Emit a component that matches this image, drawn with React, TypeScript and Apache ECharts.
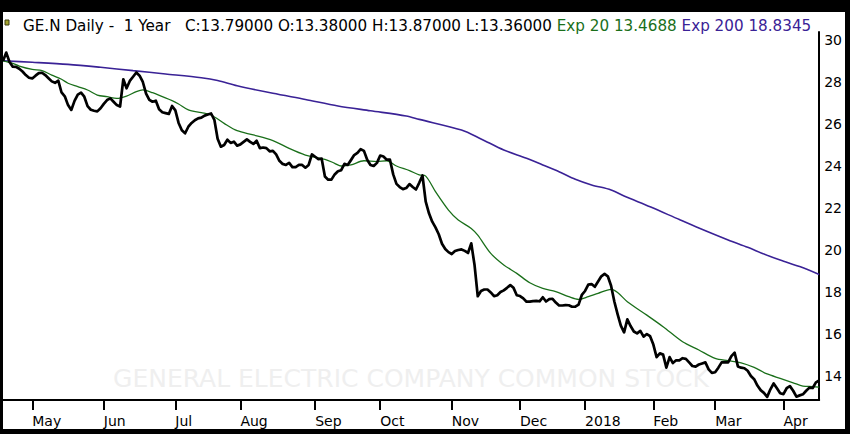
import React, { useEffect, useRef } from "react";
import * as echarts from "echarts";

// ---------- data ----------
const monthLabels = ["Apr", "May", "Jun", "Jul", "Aug", "Sep", "Oct", "Nov", "Dec", "2018", "Feb", "Mar", "Apr"];

const apr17 = [29.0, 29.4, 28.95, 28.73, 28.72, 28.63, 28.5, 28.33, 28.2];
const may17 = [28.17, 28.3, 28.42, 28.44, 28.33, 28.18, 28.03, 27.96, 28.06, 27.5, 27.32, 26.9, 26.67, 27.1, 27.4, 27.49, 27.3, 26.85, 26.68, 26.63, 26.6, 26.75];
const jun17 = [26.96, 27.14, 27.22, 27.06, 26.9, 26.83, 28.13, 27.7, 28.05, 28.25, 28.45, 28.3, 28.0, 27.45, 27.15, 27.06, 27.11, 26.7, 26.56, 26.52, 26.48, 26.86];
const jul17 = [26.65, 26.05, 25.7, 25.56, 25.87, 26.05, 26.18, 26.27, 26.3, 26.4, 26.45, 26.5, 26.2, 25.3, 24.92, 25.0, 25.25, 25.1, 25.16, 24.97];
const aug17 = [25.03, 25.15, 25.27, 25.15, 25.05, 25.2, 24.85, 24.88, 24.85, 24.7, 24.72, 24.55, 24.25, 24.1, 24.05, 24.15, 23.95, 23.95, 24.05, 24.05, 23.92, 24.05, 24.55];
const sep17 = [24.44, 24.33, 24.35, 23.5, 23.35, 23.35, 23.6, 23.75, 23.8, 24.1, 24.05, 24.28, 24.52, 24.62, 24.8, 24.72, 24.3, 24.05, 24.0, 24.15];
const oct17 = [24.5, 24.45, 24.3, 24.3, 23.6, 23.15, 23.0, 22.9, 22.95, 23.14, 23.0, 22.88, 23.2, 23.55, 22.3, 21.75, 21.35, 21.08, 20.75, 20.3, 20.05, 19.9];
const nov17 = [19.81, 19.95, 20.0, 20.03, 19.96, 19.86, 20.32, 19.3, 17.8, 18.05, 18.12, 18.12, 17.98, 17.8, 17.85, 18.0, 18.08, 18.2, 18.33, 18.2, 17.85];
const dec17 = [17.81, 17.7, 17.54, 17.54, 17.57, 17.58, 17.56, 17.75, 17.55, 17.66, 17.68, 17.5, 17.36, 17.36, 17.38, 17.37, 17.3, 17.3, 17.4, 17.86];
const jan18 = [18.05, 18.35, 18.38, 18.25, 18.5, 18.75, 18.86, 18.75, 18.3, 17.55, 16.95, 16.4, 16.08, 16.7, 16.38, 16.12, 16.03, 16.15, 15.88, 16.0, 15.9];
const feb18 = [15.5, 14.9, 15.08, 15.02, 14.4, 14.9, 14.62, 14.75, 14.75, 14.85, 14.82, 14.65, 14.48, 14.45, 14.55, 14.6, 14.65, 14.32, 14.15];
const mar18 = [14.18, 14.4, 14.65, 14.66, 14.65, 14.95, 15.11, 14.46, 14.4, 14.37, 14.25, 14.0, 13.85, 13.55, 13.33, 13.2, 13.01, 13.37, 13.65, 13.42, 13.18];
const apr18 = [13.14, 13.42, 13.52, 13.3, 13.02, 13.08, 13.13, 13.3, 13.45, 13.43, 13.7, 13.79];

const closeByMonth = [apr17, may17, jun17, jul17, aug17, sep17, oct17, nov17, dec17, jan18, feb18, mar18, apr18];

const ema20Days = [0, 3, 5, 9, 12, 15, 18, 20, 23, 26, 29, 32, 35, 38, 41, 43, 46, 49, 52, 54, 57, 61, 64, 68, 72, 77, 83, 88, 93, 96, 99, 102, 104, 107, 111, 115, 118, 121, 125, 128, 130, 133, 137, 140, 144, 146, 150, 154, 158, 162, 166, 170, 174, 177, 180, 183, 187, 189, 192, 198, 203, 209, 214, 219, 223, 227, 231, 235, 239, 243, 246, 249, 251];
const ema20Values = [29.01, 28.89, 28.76, 28.6, 28.54, 28.33, 28.13, 27.94, 27.78, 27.62, 27.38, 27.3, 27.22, 27.33, 27.54, 27.62, 27.49, 27.3, 27.11, 26.95, 26.67, 26.54, 26.43, 26.03, 25.68, 25.48, 25.21, 24.84, 24.52, 24.41, 24.32, 24.13, 24.0, 24.05, 24.25, 24.21, 24.25, 24.0, 23.78, 23.58, 23.52, 22.78, 21.9, 21.43, 21.03, 20.71, 19.84, 19.29, 18.89, 18.44, 18.17, 18.02, 17.78, 17.65, 17.78, 17.94, 18.13, 17.98, 17.54, 16.9, 16.35, 15.63, 15.24, 14.84, 14.73, 14.63, 14.41, 14.1, 13.89, 13.68, 13.52, 13.5, 13.4688];

const ema200Days = [0, 9, 20, 30, 40, 50, 61, 66, 72, 83, 93, 103, 113, 124, 128, 141, 147, 154, 161, 166, 171, 176, 181, 187, 191, 199, 208, 214, 223, 229, 234, 239, 245, 251];
const ema200Values = [29.01, 28.94, 28.84, 28.7, 28.54, 28.38, 28.2, 28.07, 27.82, 27.46, 27.17, 26.86, 26.63, 26.38, 26.22, 25.71, 25.29, 24.76, 24.37, 24.05, 23.73, 23.37, 23.1, 22.86, 22.57, 22.06, 21.45, 21.05, 20.48, 20.13, 19.81, 19.52, 19.21, 18.8345];

const yTicks = [14, 16, 18, 20, 22, 24, 26, 28, 30];
const yMin = 12.86;
const yMax = 30.38;

const headerTitle = "GE.N Daily -  1 Year";
const headerQuotes = ["C:13.79000", "O:13.38000", "H:13.87000", "L:13.36000"];
const headerEma20 = "Exp 20 13.4688";
const headerEma200 = "Exp 200 18.8345";
const watermark = "GENERAL ELECTRIC COMPANY COMMON STOCK";

// ---------- derived ----------
const categories: string[] = [];
const closes: number[] = [];
const monthStarts: number[] = [];
closeByMonth.forEach((arr, m) => {
  monthStarts.push(categories.length);
  arr.forEach((v, d) => {
    categories.push(`${monthLabels[m]}|${d}`);
    closes.push(v);
  });
});
const isMonthStart = (idx: number) => idx > 0 && monthStarts.indexOf(idx) >= 0;

const FONT = '"DejaVu Sans", "Noto Sans", sans-serif';
const GREEN = "#1a6f1a";
const PURPLE = "#3a2296";
const HEADER_SIZE = 15.2;

export default function App() {
  const ref = useRef<HTMLDivElement>(null);

  useEffect(() => {
    document.body.style.margin = "0";
    if (!ref.current) return;
    const chart = echarts.init(ref.current, undefined, { renderer: "svg" });

    const headerText =
      `{k|${headerTitle}   ${headerQuotes.join(" ")} }` +
      `{g|${headerEma20} }` +
      `{p|${headerEma200}}`;

    chart.setOption({
      animation: false,
      backgroundColor: "#ffffff",
      graphic: {
        elements: [
          {
            type: "rect",
            shape: { x: 2, y: 8, width: 4, height: 5 },
            style: { fill: "#a3a32e", stroke: "#3d3d10", lineWidth: 1 },
          },
          {
            type: "text",
            x: 20,
            y: 13.5,
            style: {
              text: headerText,
              fontSize: HEADER_SIZE,
              fontFamily: FONT,
              align: "left",
              verticalAlign: "middle",
              rich: {
                k: { fill: "#000000", fontSize: HEADER_SIZE, fontFamily: FONT },
                g: { fill: GREEN, fontSize: HEADER_SIZE, fontFamily: FONT },
                p: { fill: PURPLE, fontSize: HEADER_SIZE, fontFamily: FONT },
              },
            },
          },
          {
            type: "text",
            x: 408,
            y: 366,
            z: -1,
            style: {
              text: watermark,
              fill: "#efefef",
              fontSize: 25,
              fontFamily: FONT,
              align: "center",
              verticalAlign: "middle",
            },
          },
        ],
      },
      grid: { left: 0, right: 23.5, top: 20, bottom: 29, containLabel: false },
      xAxis: {
        type: "category",
        data: categories,
        boundaryGap: false,
        axisLine: { show: true, lineStyle: { color: "#000", width: 2 } },
        axisTick: {
          show: true,
          length: 10,
          interval: (idx: number) => isMonthStart(idx),
          lineStyle: { color: "#000", width: 2 },
        },
        axisLabel: {
          show: true,
          interval: (idx: number) => isMonthStart(idx),
          formatter: (v: string) => v.split("|")[0],
          align: "left",
          margin: 14,
          color: "#000",
          fontSize: 14,
          fontFamily: FONT,
        },
        splitLine: { show: false },
      },
      yAxis: {
        type: "value",
        position: "right",
        min: yMin,
        max: yMax,
        axisLine: { show: true, lineStyle: { color: "#000", width: 2 } },
        axisTick: { show: false },
        splitLine: { show: false },
        axisLabel: {
          show: true,
          customValues: yTicks,
          margin: 5,
          color: "#000",
          fontSize: 14,
          fontFamily: FONT,
        },
      },
      series: [
        {
          type: "line",
          name: "Exp 200",
          data: ema200Days.map((d, k) => [d, ema200Values[k]]),
          symbol: "none",
          smooth: 0.3,
          lineStyle: { color: PURPLE, width: 1.6 },
          z: 3,
        },
        {
          type: "line",
          name: "Exp 20",
          data: ema20Days.map((d, k) => [d, ema20Values[k]]),
          symbol: "none",
          smooth: 0.3,
          lineStyle: { color: GREEN, width: 1.3 },
          z: 4,
        },
        {
          type: "line",
          name: "GE.N",
          data: closes,
          symbol: "none",
          lineStyle: { color: "#000", width: 2.7, join: "round" },
          z: 5,
        },
      ],
    });

    return () => chart.dispose();
  }, []);

  return (
    <div style={{ position: "fixed", left: 0, top: 0, width: 850, height: 434, background: "#000" }}>
      <div ref={ref} style={{ position: "absolute", left: 3, top: 12, width: 842, height: 417, background: "#fff" }} />
    </div>
  );
}
